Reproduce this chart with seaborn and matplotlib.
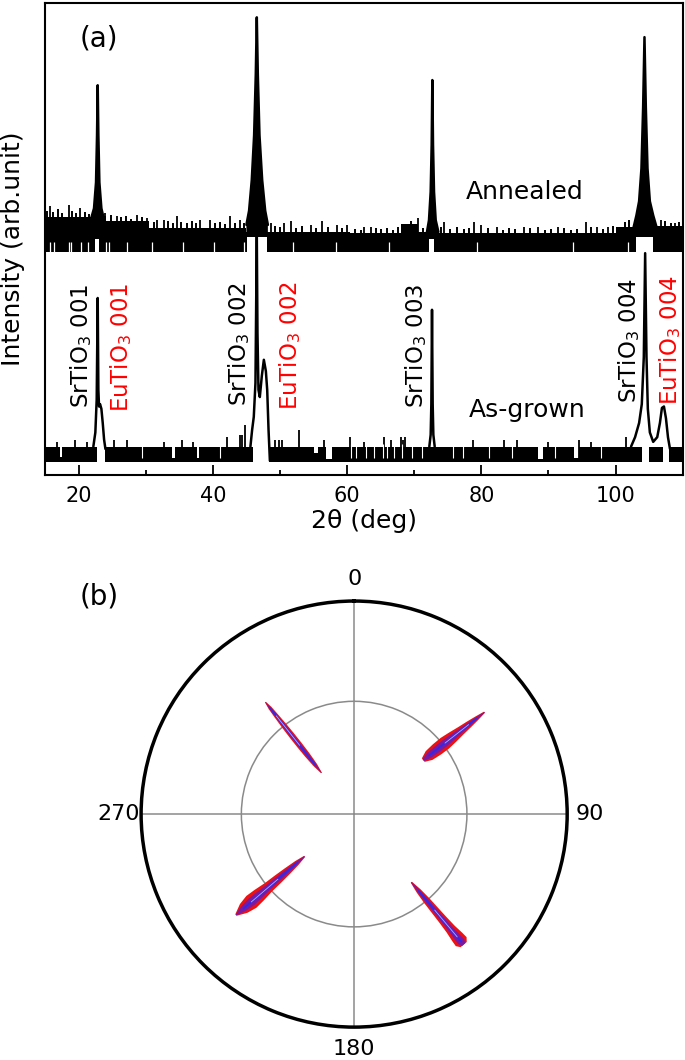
import numpy as np
import matplotlib
matplotlib.use('Agg')
import matplotlib.pyplot as plt
import seaborn as sns

# ---------------- panel (a): XRD 2theta scans (offset traces, arb. units 0-100)
tth_ticks = [20, 40, 60, 80, 100]
tth_minor = [30, 50, 70, 90]

# annealed trace: noise band, white notches, spikes, Bragg peaks
ann_floor = 47.2
ann_band_start = [15.0, 22.0, 30.5, 45.0, 60.5, 68.0, 70.5, 73.5, 100.0, 105.8]
ann_band_end = [22.0, 30.5, 45.0, 60.5, 68.0, 70.5, 73.5, 100.0, 105.8, 110.0]
ann_band_top = [54.6, 53.8, 52.4, 51.5, 51.2, 53.2, 51.4, 51.2, 52.6, 52.8]
ann_gap_start = [22.5, 45.1, 72.2, 103.1]
ann_gap_end = [23.1, 48.1, 73.0, 105.6]
ann_gap_top = [50.0, 50.5, 50.0, 50.5]
ann_notch_x = [15.75, 16.3, 18.5, 18.8, 20.4, 21.4, 24.1, 24.6, 27.2, 31.0, 35.6,
               40.1, 44.6, 52.0, 58.3, 66.2, 79.4, 93.6, 101.8]
ann_spike_x = [15.75, 18.5, 20.2, 24.0, 25.7, 28.7, 30.2, 31.7, 32.7, 34.7, 38.1, 39.6,
               42.6, 44.1, 48.6, 50.6, 51.6, 54.6, 56.3, 58.5, 60.0, 62.5, 63.5, 70.5,
               74.5, 78.9, 79.9, 82.4, 86.4, 88.4, 91.4, 95.6, 97.3, 98.8, 100.8, 106.8, 108.8]
ann_spike_y = [57.0, 57.2, 56.5, 55.5, 54.9, 55.0, 54.5, 54.0, 54.0, 54.9, 54.0, 54.0,
               54.9, 54.0, 53.5, 53.5, 53.8, 53.0, 53.8, 53.0, 53.0, 52.6, 52.6, 54.4,
               53.6, 53.6, 53.0, 52.6, 52.6, 52.6, 52.6, 53.6, 52.6, 52.6, 52.6, 54.0, 53.5]
ann_grass_x = [15.3, 16.2, 17.0, 17.6, 19.0, 19.6, 21.0, 21.6, 23.9, 24.8, 26.3, 27.0,
               27.8, 29.4, 31.2, 33.3, 34.1, 35.3, 36.2, 36.9, 37.5, 40.3, 41.0, 41.8,
               43.3, 44.6, 49.3, 50.0, 52.4, 53.3, 55.4, 57.2, 59.3, 61.2, 62.0, 64.3,
               65.1, 66.0, 66.8, 67.6, 69.5, 71.3, 74.0, 75.4, 76.3, 77.4, 78.2, 81.0,
               83.2, 84.1, 85.0, 87.3, 89.5, 90.4, 92.3, 93.3, 94.2, 96.4, 98.1, 99.6,
               101.4, 102.0, 107.4, 108.2, 109.4]
ann_grass_y = [56.0, 55.8, 56.3, 55.6, 56.0, 55.5, 55.7, 55.3, 54.8, 55.0, 54.6, 54.9,
               54.3, 54.6, 53.6, 53.8, 53.4, 53.6, 53.3, 53.8, 53.4, 53.3, 53.6, 53.2,
               53.5, 53.4, 52.8, 52.6, 52.4, 52.8, 52.3, 52.6, 52.4, 52.2, 52.0, 52.3,
               52.1, 52.4, 52.0, 52.6, 53.8, 52.4, 52.5, 52.2, 52.6, 52.1, 52.4, 52.3,
               52.0, 52.4, 52.1, 52.3, 52.0, 52.2, 52.4, 52.0, 52.2, 52.5, 52.2, 52.8,
               53.6, 54.0, 53.8, 53.4, 53.6]
ann_p1_x = [21.8, 22.3, 22.6, 22.75, 22.85, 22.95, 23.1, 23.4, 23.8]
ann_p1_y = [54.0, 56.5, 62.0, 72.0, 82.6, 72.0, 62.0, 56.5, 54.0]
ann_p2_x = [45.0, 45.4, 45.8, 46.15, 46.4, 46.55, 46.7, 46.95, 47.35, 47.8, 48.2]
ann_p2_y = [53.0, 56.0, 62.5, 72.0, 85.0, 97.0, 85.0, 72.0, 62.5, 56.0, 53.0]
ann_p3_x = [71.9, 72.2, 72.45, 72.6, 72.7, 72.8, 72.95, 73.2, 73.6]
ann_p3_y = [51.5, 54.0, 60.0, 70.0, 83.7, 70.0, 60.0, 54.0, 51.5]
ann_p4_x = [102.6, 103.1, 103.5, 103.85, 104.1, 104.3, 104.5, 104.75, 105.1, 105.6, 106.2]
ann_p4_y = [52.0, 55.0, 58.0, 65.0, 78.0, 92.8, 78.0, 65.0, 58.0, 55.0, 52.0]

# as-grown trace
asg_floor = 2.7
asg_band_top = 6.0
asg_gap_start = [22.7, 46.0, 104.0, 107.0, 17.2, 33.9, 37.7, 56.8, 88.4, 93.8, 55.0]
asg_gap_end = [24.0, 48.3, 105.0, 108.0, 17.5, 34.3, 38.0, 57.8, 89.2, 94.5, 55.7]
asg_gap_lo = [2.0, 2.0, 2.0, 2.0, 3.8, 3.6, 3.6, 3.4, 3.4, 3.6, 4.6]
asg_gap_hi = [6.5, 6.5, 6.5, 6.5, 6.5, 6.5, 6.5, 6.5, 6.5, 6.5, 6.5]
asg_dip_x = [60.6, 61.4, 62.8, 64.0, 65.3, 66.0, 67.0, 68.2, 69.7, 71.2, 29.5, 41.0,
             75.8, 77.3, 81.2, 84.6, 91.0, 97.8]
asg_spike_x = [16.8, 19.4, 21.3, 25.3, 27.2, 32.8, 35.4, 37.0, 42.1, 44.0, 44.4, 44.85,
               49.2, 49.8, 50.3, 52.9, 56.6, 60.4, 62.5, 65.5, 66.5, 68.0, 68.4, 68.7,
               78.8, 83.4, 85.3, 89.9, 94.5, 96.4, 101.5]
asg_spike_y = [7.0, 7.5, 7.0, 7.5, 7.5, 7.0, 7.5, 7.0, 8.0, 8.5, 8.5, 10.6,
               7.4, 7.4, 7.4, 9.5, 7.5, 8.0, 7.0, 8.0, 7.5, 8.0, 7.5, 8.0,
               7.5, 7.5, 7.5, 7.0, 7.5, 7.0, 8.0]
asg_p1_x = [22.2, 22.5, 22.7, 22.85, 22.95, 23.05, 23.2, 23.4, 23.6, 23.8, 24.0]
asg_p1_y = [6.0, 9.0, 16.0, 37.5, 18.0, 14.5, 15.0, 14.0, 11.0, 7.5, 5.5]
asg_p2_x = [45.6, 45.85, 46.1, 46.35, 46.55, 46.65, 46.8, 47.0, 47.3, 47.6, 47.9, 48.1, 48.3, 48.5]
asg_p2_y = [6.0, 9.5, 12.3, 19.5, 51.0, 30.0, 18.0, 16.5, 21.0, 24.4, 22.0, 18.0, 9.5, 3.0]
asg_p3_x = [72.25, 72.45, 72.55, 72.65, 72.75, 72.85, 73.05]
asg_p3_y = [6.0, 8.5, 15.0, 35.0, 15.0, 8.5, 6.0]
asg_p4_x = [102.3, 102.9, 103.5, 103.9, 104.2, 104.4, 104.6, 104.8, 105.1, 105.6, 106.2,
            106.6, 106.9, 107.2, 107.5, 107.8, 108.1]
asg_p4_y = [6.0, 8.0, 11.0, 15.0, 25.0, 47.0, 25.0, 14.0, 9.0, 7.0, 8.0,
            11.0, 14.2, 14.5, 12.0, 8.0, 5.5]

# peak labels (x of label centre, y of label bottom)
label_text = ['SrTiO$_3$ 001', 'EuTiO$_3$ 001', 'SrTiO$_3$ 002', 'EuTiO$_3$ 002',
              'SrTiO$_3$ 003', 'SrTiO$_3$ 004', 'EuTiO$_3$ 004']
label_x = [20.4, 26.4, 43.9, 51.5, 70.3, 102.0, 108.1]
label_y = [14.2, 13.4, 14.5, 13.8, 14.1, 15.2, 14.8]
label_color = ['black', 'red', 'black', 'red', 'black', 'black', 'red']

# ---------------- panel (b): phi scan pole figure
pole_ticks = [0, 90, 180, 270]
pole_minor = [45, 135, 225, 315]
rmax = 85
r_grid = 45
blob_theta = [52.0, 140.0, 229.5, 321.6]
blob_r = [[35, 38, 42, 46, 50, 54, 58, 62, 66],
          [35.5, 40, 45, 50, 55, 60, 64, 66.5, 68],
          [26, 30, 35, 40, 45, 50, 54, 58, 62],
          [21, 25, 30, 35, 40, 45, 50, 54, 57]]
blob_w = [[0.9, 2.2, 2.6, 2.7, 2.3, 1.8, 1.4, 0.9, 0.3],
          [0.3, 1.0, 1.4, 1.6, 1.8, 2.1, 2.6, 2.8, 1.6],
          [0.3, 1.0, 1.5, 1.9, 2.2, 2.8, 3.1, 2.3, 0.4],
          [0.2, 0.8, 1.1, 1.2, 1.2, 1.1, 0.9, 0.7, 0.2]]

sns.set_theme(style='ticks')
plt.rcParams['font.family'] = ['DejaVu Sans']
plt.rcParams['axes.linewidth'] = 1.5
for key in ['text.color', 'axes.labelcolor', 'xtick.color', 'ytick.color', 'axes.edgecolor']:
    plt.rcParams[key] = 'black'

fig = plt.figure(figsize=(6.85, 10.6), dpi=100)
ax = fig.add_axes([0.0657, 0.552, 0.931, 0.445])

for s, e, t in zip(ann_band_start, ann_band_end, ann_band_top):
    ax.fill_between([s, e], ann_floor, t, color='black', lw=0)
ax.vlines(ann_grass_x, ann_floor, ann_grass_y, color='black', lw=1.4)
ax.vlines(ann_spike_x, ann_floor, ann_spike_y, color='black', lw=1.3)
ax.vlines(ann_notch_x, ann_floor - 0.5, 49.3, color='white', lw=0.9)
for s, e, t in zip(ann_gap_start, ann_gap_end, ann_gap_top):
    ax.fill_between([s, e], ann_floor - 0.5, t, color='white', lw=0)

ax.fill_between([15, 110], asg_floor, asg_band_top, color='black', lw=0)
ax.vlines(asg_spike_x, asg_floor, asg_spike_y, color='black', lw=1.3)
for s, e, lo, hi in zip(asg_gap_start, asg_gap_end, asg_gap_lo, asg_gap_hi):
    ax.fill_between([s, e], lo, hi, color='white', lw=0)
ax.vlines(asg_dip_x, 3.6, 6.5, color='white', lw=0.8)

for px, py in [(ann_p1_x, ann_p1_y), (ann_p2_x, ann_p2_y), (ann_p3_x, ann_p3_y), (ann_p4_x, ann_p4_y)]:
    ax.fill(px + [px[-1], px[0]], py + [50.5, 50.5], color='black', lw=0)
    sns.lineplot(x=px, y=py, estimator=None, sort=False, color='black', lw=1.8, ax=ax)
for px, py in [(asg_p1_x, asg_p1_y), (asg_p2_x, asg_p2_y), (asg_p3_x, asg_p3_y), (asg_p4_x, asg_p4_y)]:
    sns.lineplot(x=px, y=py, estimator=None, sort=False, color='black', lw=1.8, ax=ax)

for txt, x, y, c in zip(label_text, label_x, label_y, label_color):
    ax.text(x, y, txt, rotation=90, ha='center', va='bottom', color=c, fontsize=16.5)
ax.text(86.5, 59.9, 'Annealed', ha='center', va='center', fontsize=18)
ax.text(86.8, 13.8, 'As-grown', ha='center', va='center', fontsize=18)
ax.text(20.1, 92.5, '(a)', ha='left', va='center', fontsize=20)

ax.set_xlim(15, 110)
ax.set_ylim(0, 100)
ax.set_yticks([])
ax.set_xticks(tth_ticks)
ax.set_xticks(tth_minor, minor=True)
ax.tick_params(axis='x', which='major', direction='in', length=7, width=1.3, labelsize=15, pad=8)
ax.tick_params(axis='x', which='minor', direction='in', length=3.5, width=1.3)
ax.set_xlabel('2θ (deg)', fontsize=18, labelpad=2)
ax.set_ylabel('Intensity (arb.unit)', fontsize=18)
ax.yaxis.set_label_coords(-0.031, 0.48)
for sp in ax.spines.values():
    sp.set_visible(True)
    sp.set_color('black')

# ---------------- panel (b)
ax2 = fig.add_axes([0.206, 0.031, 0.622, 0.402], projection='polar')
ax2.set_theta_zero_location('N')
ax2.set_theta_direction(-1)
ax2.set_rlim(0, rmax)
ax2.set_yticks([r_grid])
ax2.set_yticklabels([])
ax2.set_xticks(np.deg2rad(pole_ticks))
ax2.set_xticklabels([str(t) for t in pole_ticks])
ax2.set_xticks(np.deg2rad(pole_minor), minor=True)
ax2.tick_params(axis='x', which='both', direction='in', length=7, width=1.6, colors='black',
                pad=9, labelsize=16)
ax2.grid(True, color='#8a8a8a', lw=1.1)
ax2.spines['polar'].set_linewidth(2.5)
ax2.spines['polar'].set_color('black')
ax2.set_facecolor('white')

for th0, rr, ww in zip(blob_theta, blob_r, blob_w):
    th = np.deg2rad(th0)
    rr = np.asarray(rr, float)
    ww = np.asarray(ww, float)
    for scale, col in [(1.0, '#ee1111'), (0.55, '#7a1aa0')]:
        dth = scale * ww / rr
        ax2.fill(np.concatenate([th + dth, (th - dth)[::-1]]),
                 np.concatenate([rr, rr[::-1]]), color=col, lw=0)
    ax2.plot([th, th], [rr[1], rr[-2]], color='#2a2af0', lw=1.2)
    ax2.plot([th, th], [rr[3], rr[-3]], color='#b0b0ff', lw=0.6)

fig.text(80 / 685, 1 - 597 / 1060, '(b)', ha='left', va='center', fontsize=20)

fig.savefig('out.png', dpi=100)
